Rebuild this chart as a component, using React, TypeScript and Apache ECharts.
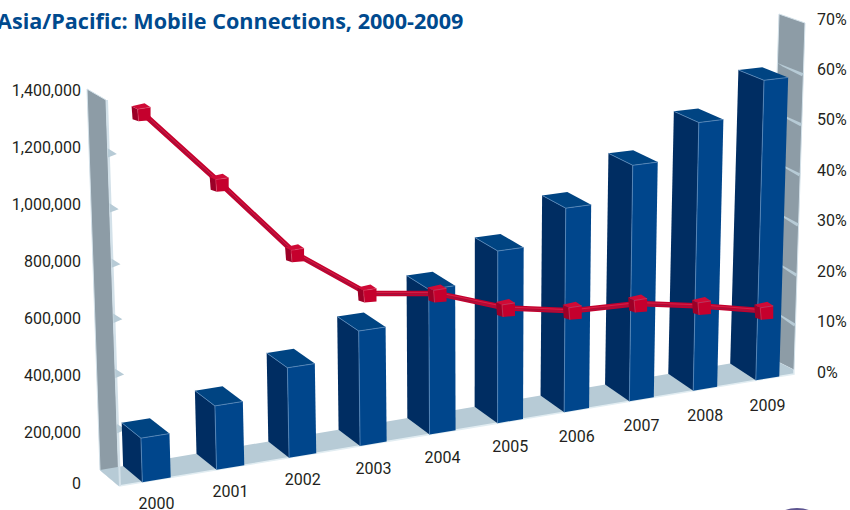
import React, { useEffect, useRef } from "react";
import * as echarts from "echarts";

const years = ["2000", "2001", "2002", "2003", "2004", "2005", "2006", "2007", "2008", "2009"];
const connections = [160000, 235000, 334000, 431000, 549000, 658000, 787000, 919000, 1054000, 1190000];
const growthPct = [66.6, 52, 37.1, 27.7, 25.8, 21.1, 18.6, 18.1, 15.7, 12.8];
const connectionTicks = [200000, 400000, 600000, 800000, 1000000, 1200000];
const growthTicks = [10, 20, 30, 40, 50, 60];

const MAX_CONNECTIONS = 1400000;
const MAX_GROWTH = 70;

// Plot rectangles of the two hidden value scales; marks are warped out of these.
const GRID_LEFT = 85;
const GRID_WIDTH = 727;
const CONN_TOP = 90;
const CONN_HEIGHT = 399;
const PCT_TOP = 19;
const PCT_HEIGHT = 353;

// Corners of the box the scene is drawn in: floor first, then the top of the walls.
const FRONT_LEFT = [119, 486];
const FRONT_RIGHT = [794, 374];
const BACK_LEFT = [100, 470];
const BACK_RIGHT = [768, 357];
const FRONT_LEFT_TOP = [106, 100];
const FRONT_RIGHT_TOP = [805, 23];
const BACK_LEFT_TOP = [87, 89];
const BACK_RIGHT_TOP = [779, 14];
const RIGHT_WALL_CORNER = [794, 370];

const mix = (a: number[], b: number[], k: number) => [a[0] + (b[0] - a[0]) * k, a[1] + (b[1] - a[1]) * k];

// t: along the front edge, d: depth into the scene, v: height, all 0..1.
function project(t: number, d: number, v: number): number[] {
  const floor = mix(mix(FRONT_LEFT, FRONT_RIGHT, t), mix(BACK_LEFT, BACK_RIGHT, t), d);
  const top = mix(mix(FRONT_LEFT_TOP, FRONT_RIGHT_TOP, t), mix(BACK_LEFT_TOP, BACK_RIGHT_TOP, t), d);
  return mix(floor, top, v);
}

// Foreshortening along the front edge: categories get closer towards the right.
const foreshorten = (u: number) => (1.119 * u) / (1 + 0.112 * u);
const toU = (px: number) => (px - GRID_LEFT) / GRID_WIDTH;

const BLUE_LIGHT = "#00468c";
const BLUE_DARK = "#002d62";
const BLUE_TOP = "#004482";
const BLUE_EDGE = "#5a8abb";
const RED = "#c5002d";
const RED_DARK = "#9c0027";
const RED_TOP = "#cf0a36";
const WALL = "#8d9ca6";
const WALL_EDGE = "#d3e1e9";
const FLOOR = "#b7cbd6";
const LABEL = "#231f20";
const FONT = "Roboto, sans-serif";

const poly = (points: number[][], fill: string, stroke?: string, lineWidth = 0) => ({
  type: "polygon",
  shape: { points },
  style: { fill, stroke: stroke ?? "none", lineWidth },
});
const edge = (points: number[][], stroke: string, lineWidth = 0.8) => ({
  type: "polyline",
  shape: { points },
  style: { fill: "none", stroke, lineWidth },
});

function renderFrame() {
  const children: any[] = [
    poly([project(0, 0, 0), project(0, 1, 0), project(0, 1, 1), project(0, 0, 1)], WALL, WALL_EDGE, 1),
    poly([RIGHT_WALL_CORNER, project(1, 1, 0), project(1, 1, 1), project(1, 0, 1)], WALL, WALL_EDGE, 1),
    poly([project(0, 0, 0), project(1, 0, 0), RIGHT_WALL_CORNER, project(1, 1, 0), project(0, 1, 0)], FLOOR),
    edge([project(0, 0, 0), project(1, 0, 0), RIGHT_WALL_CORNER], "#e2edf2", 1.5),
    edge([project(0, 0, 0), project(0, 0, 1)].map((p) => [p[0] + 1, p[1]]), WALL_EDGE, 2),
  ];
  connectionTicks.forEach((value) => {
    const v = value / MAX_CONNECTIONS;
    children.push(poly([project(0, 0, v + 0.018), project(0.013, 0, v), project(0, 0, v - 0.006)], FLOOR));
  });
  growthTicks.forEach((value) => {
    const v = value / MAX_GROWTH;
    children.push(poly([project(1, 1, v), project(1, 0, v), project(1, 0.05, v - 0.01), project(1, 0.8, v - 0.004)], FLOOR));
  });
  return { type: "group", children };
}

function renderBar(_: any, api: any) {
  const c = api.coord([api.value(0), api.value(1)]);
  const u = toU(c[0]);
  const v = (CONN_TOP + CONN_HEIGHT - c[1]) / CONN_HEIGHT;
  const halfBand = 0.019;
  const t0 = foreshorten(u - halfBand);
  const t1 = foreshorten(u + halfBand);
  const ftl = project(t0, 0, v);
  const ftr = project(t1, 0, v);
  const btl = project(t0, 1, v);
  const btr = project(t1, 1, v);
  const fbl = project(t0, 0, 0);
  const fbr = project(t1, 0, 0);
  const bbl = project(t0, 1, 0);
  return {
    type: "group",
    children: [
      poly([bbl, fbl, ftl, btl], BLUE_DARK),
      poly([fbl, fbr, ftr, ftl], BLUE_LIGHT),
      poly([ftl, ftr, btr, btl], BLUE_TOP),
      edge([fbl, ftl], BLUE_EDGE),
      edge([btl, ftl, ftr], BLUE_EDGE),
    ],
  };
}

function renderYear(params: any, api: any) {
  const c = api.coord([api.value(0), 0]);
  const t = foreshorten(toU(c[0]));
  const base = project(t, 0, 0);
  return {
    type: "text",
    x: base[0],
    y: base[1] + 23.3 + 4 * t,
    style: {
      text: years[params.dataIndex],
      textAlign: "center",
      textVerticalAlign: "middle",
      fontFamily: FONT,
      fontSize: 16,
      fill: LABEL,
    },
  };
}

// Growth markers sit a little way into the box.
function growthPoint(api: any, index: number, value: number) {
  const c = api.coord([index, value]);
  const v = (PCT_TOP + PCT_HEIGHT - c[1]) / PCT_HEIGHT;
  return project(foreshorten(toU(c[0])), 0.2, v);
}

function renderRibbon(params: any, api: any) {
  if (params.dataIndex !== 0) return { type: "group", children: [] };
  const points = growthPct.map((value, i) => growthPoint(api, i, value));
  return {
    type: "group",
    children: [
      edge(points, RED, 5.5),
      edge(points.map((p) => [p[0], p[1] + 1]), "#a0143f", 1.1),
      edge(points.map((p) => [p[0], p[1] - 1]), "#d63a5e", 0.6),
    ],
  };
}

function renderCube(params: any, api: any) {
  const [x, y] = growthPoint(api, params.dataIndex, api.value(1));
  const at = (dx: number, dy: number) => [x + dx, y + dy];
  return {
    type: "group",
    children: [
      poly([at(-10, -6), at(-4, -3), at(-3, 9), at(-9, 7)], RED_DARK),
      poly([at(-4, -3), at(9, -5), at(9, 8), at(-3, 9)], RED),
      poly([at(-10, -6), at(3, -9), at(9, -5), at(-4, -3)], RED_TOP),
      edge([at(-3, 9), at(-4, -3), at(9, -5)], "#dc5573", 0.5),
    ],
  };
}

const indexed = (values: number[]) => values.map((value, i) => [i, value]);

export default function App() {
  const ref = useRef<HTMLDivElement>(null);

  useEffect(() => {
    document.body.style.margin = "0";
    const chart = echarts.init(ref.current!, null, { renderer: "svg" });
    const hiddenX = (gridIndex: number) => ({
      type: "category",
      gridIndex,
      data: years,
      show: false,
    });
    chart.setOption({
      animation: false,
      backgroundColor: "#ffffff",
      title: {
        text: "Asia/Pacific: Mobile Connections, 2000-2009",
        left: -3,
        top: 9,
        padding: 0,
        textStyle: { fontFamily: "'Open Sans', sans-serif", fontSize: 21.6, fontWeight: 700, color: "#004a8e" },
      },
      grid: [
        { left: GRID_LEFT, width: GRID_WIDTH, top: CONN_TOP, height: CONN_HEIGHT },
        { left: GRID_LEFT, width: GRID_WIDTH, top: PCT_TOP, height: PCT_HEIGHT },
      ],
      xAxis: [hiddenX(0), hiddenX(1)],
      yAxis: [
        {
          type: "value",
          gridIndex: 0,
          min: 0,
          max: MAX_CONNECTIONS,
          interval: 200000,
          axisLine: { show: false },
          axisTick: { show: false },
          splitLine: { show: false },
          axisLabel: {
            margin: 4,
            fontFamily: FONT,
            fontSize: 16,
            color: LABEL,
            // The zero label stands a little above the scale's foot.
            formatter: (value: number) => (value === 0 ? "{foot|0}" : value.toLocaleString("en-US")),
            rich: { foot: { padding: [0, 0, 12, 0], fontFamily: FONT, fontSize: 16, color: LABEL } },
          },
        },
        {
          type: "value",
          gridIndex: 1,
          position: "right",
          min: 0,
          max: MAX_GROWTH,
          interval: 10,
          axisLine: { show: false },
          axisTick: { show: false },
          splitLine: { show: false },
          axisLabel: {
            margin: 5,
            fontFamily: FONT,
            fontSize: 16,
            color: LABEL,
            formatter: "{value}%",
          },
        },
      ],
      series: [
        {
          type: "custom",
          name: "Frame",
          xAxisIndex: 0,
          yAxisIndex: 0,
          z: 1,
          silent: true,
          data: [[0, 0]],
          renderItem: renderFrame,
        },
        {
          type: "custom",
          name: "Mobile connections",
          xAxisIndex: 0,
          yAxisIndex: 0,
          z: 2,
          encode: { x: 0, y: 1 },
          data: indexed(connections),
          renderItem: renderBar,
        },
        {
          type: "custom",
          name: "Years",
          xAxisIndex: 0,
          yAxisIndex: 0,
          z: 2,
          silent: true,
          data: indexed(connections),
          renderItem: renderYear,
        },
        {
          type: "custom",
          name: "Growth ribbon",
          xAxisIndex: 1,
          yAxisIndex: 1,
          z: 3,
          data: indexed(growthPct),
          renderItem: renderRibbon,
        },
        {
          type: "custom",
          name: "Growth",
          xAxisIndex: 1,
          yAxisIndex: 1,
          z: 4,
          encode: { x: 0, y: 1 },
          data: indexed(growthPct),
          renderItem: renderCube,
        },
      ],
      graphic: [
        {
          type: "ellipse",
          silent: true,
          shape: { cx: 797, cy: 521, rx: 22, ry: 13 },
          style: { fill: "#5d5490" },
        },
      ],
    });
    return () => chart.dispose();
  }, []);

  return <div ref={ref} style={{ width: 850, height: 510 }} />;
}
